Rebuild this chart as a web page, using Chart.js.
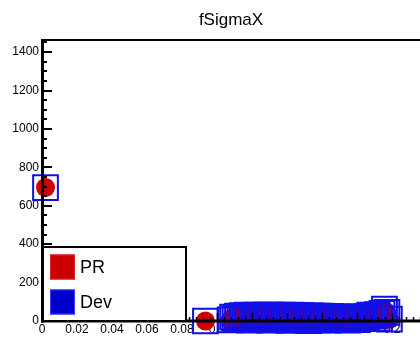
<!DOCTYPE html>
<html><head><meta charset="utf-8">
<script src="https://cdn.jsdelivr.net/npm/chart.js@4"></script>
<style>html,body{margin:0;padding:0;background:#fff;overflow:hidden}#wrap{width:420px;height:337px}</style>
</head><body><div id="wrap"><canvas id="c" width="420" height="337"></canvas></div>
<script>
const chartTitle = 'fSigmaX';
const seriesNames = ['PR', 'Dev'];
const xValues = [0.002, 0.0934,
  0.1075, 0.1089, 0.1103, 0.1117, 0.1131, 0.1145, 0.1159, 0.1173, 0.1187, 0.1201,
  0.1215, 0.1229, 0.1243, 0.1257, 0.1271, 0.1285, 0.1299, 0.1313, 0.1327, 0.1341,
  0.1355, 0.1369, 0.1383, 0.1397, 0.1411, 0.1425, 0.1439, 0.1453, 0.1467, 0.1481,
  0.1495, 0.1509, 0.1523, 0.1537, 0.1551, 0.1565, 0.1579, 0.1593, 0.1607, 0.1621,
  0.1635, 0.1649, 0.1663, 0.1677, 0.1691, 0.1705, 0.1719, 0.1733, 0.1747, 0.1761,
  0.1775, 0.1789, 0.1803, 0.1817, 0.1831, 0.1845, 0.1859, 0.1873, 0.1887, 0.1901,
  0.1915, 0.1929, 0.1943, 0.1957, 0.1971, 0.1985];
const prValues = [695, 0,
  4, 17, 10, 22, 7, 24, 12, 26, 3, 23,
  15, 27, 6, 25, 19, 27, 3, 26, 12, 24,
  8, 27, 17, 23, 2, 26, 13, 25, 5, 24,
  18, 22, 1, 23, 10, 21, 5, 22, 12, 19,
  3, 20, 9, 18, 6, 18, 12, 16, 4, 17,
  8, 15, 5, 18, 11, 16, 20, 26, 10, 24,
  28, 12, 35, 55, 38, 8];
const devValues = [695, 0,
  6, 20, 12, 26, 9, 28, 15, 30, 5, 27,
  18, 31, 8, 29, 22, 31, 4, 30, 14, 28,
  10, 31, 20, 27, 3, 30, 16, 29, 7, 28,
  21, 26, 2, 27, 12, 25, 6, 26, 15, 23,
  4, 24, 11, 21, 8, 22, 14, 19, 5, 20,
  10, 18, 7, 21, 13, 19, 24, 30, 12, 28,
  33, 15, 40, 62, 45, 10];
const xRange = [0, 0.216];
const yRange = [0, 1463];
const xMajorStep = 0.02, xMinorStep = 0.004;
const yMajorStep = 200, yMinorStep = 50;

const FONT = "'Liberation Sans', Arial, Helvetica, sans-serif";
const RED = '#cc0000';
const BLUE = '#1010e6';

function toPoints(xs, ys) { return xs.map((x, i) => ({ x: x, y: ys[i] })); }
function fmt(v) { return String(parseFloat(Number(v).toFixed(6))); }

const framePlugin = {
  id: 'frame',
  afterDatasetsDraw(chart) {
    const { ctx, chartArea: a, scales: { x, y } } = chart;
    ctx.save();
    ctx.strokeStyle = '#000';
    ctx.lineCap = 'butt';
    const ny = Math.round((yRange[1] - yRange[0]) / yMinorStep);
    for (let i = 0; i <= ny; i++) {
      const v = yRange[0] + i * yMinorStep;
      if (v > yRange[1]) break;
      const major = (i * yMinorStep) % yMajorStep === 0;
      const py = Math.round(y.getPixelForValue(v));
      ctx.lineWidth = 2;
      ctx.beginPath();
      ctx.moveTo(a.left, py);
      ctx.lineTo(a.left + (major ? 10 : 5), py);
      ctx.stroke();
    }
    const per = Math.round(xMajorStep / xMinorStep);
    for (let i = 0; ; i++) {
      const v = xRange[0] + i * xMinorStep;
      if (v > xRange[1]) break;
      const major = i % per === 0;
      const px = Math.round(x.getPixelForValue(v)) + 0.5;
      ctx.lineWidth = 1.5;
      ctx.beginPath();
      ctx.moveTo(px, a.bottom);
      ctx.lineTo(px, a.bottom - (major ? 8 : 4));
      ctx.stroke();
    }
    ctx.lineWidth = 2;
    ctx.beginPath(); ctx.moveTo(a.left, a.top); ctx.lineTo(a.right + 5, a.top); ctx.stroke();
    ctx.lineWidth = 3;
    ctx.beginPath(); ctx.moveTo(a.left + 0.5, a.top - 1); ctx.lineTo(a.left + 0.5, a.bottom + 1.5); ctx.stroke();
    ctx.beginPath(); ctx.moveTo(a.left - 1, a.bottom); ctx.lineTo(a.right + 5, a.bottom); ctx.stroke();
    ctx.restore();
  },
  afterDraw(chart) {
    const { ctx, chartArea: a } = chart;
    const ds = chart.data.datasets;
    ctx.save();
    const L = a.left + 1, T = a.bottom - 74, W = 143, H = 74;
    ctx.fillStyle = '#fff';
    ctx.fillRect(L, T, W, H);
    ctx.strokeStyle = '#000';
    ctx.lineWidth = 2;
    ctx.strokeRect(L, T, W, H);
    const rows = [{ c: RED, b: '#dd2222', cy: T + 20 }, { c: '#0000cc', b: '#3c3cff', cy: T + 55 }];
    ctx.font = '18px ' + FONT;
    ctx.textBaseline = 'middle';
    rows.forEach((r, i) => {
      ctx.fillStyle = r.c;
      ctx.fillRect(L + 7, r.cy - 12.5, 25, 25);
      ctx.strokeStyle = r.b;
      ctx.lineWidth = 1;
      ctx.strokeRect(L + 7.5, r.cy - 12, 24, 24);
      ctx.fillStyle = '#000';
      ctx.fillText(ds[i].label, L + 37, r.cy + 1);
    });
    ctx.restore();
  }
};

new Chart(document.getElementById('c'), {
  type: 'scatter',
  data: {
    datasets: [
      {
        label: seriesNames[0],
        data: toPoints(xValues, prValues),
        pointStyle: 'circle',
        pointRadius: 9.5,
        backgroundColor: RED,
        borderColor: RED,
        borderWidth: 0,
        clip: false,
        order: 2
      },
      {
        label: seriesNames[1],
        data: toPoints(xValues, devValues),
        pointStyle: 'rect',
        pointRadius: 17.5,
        backgroundColor: 'rgba(0,0,0,0)',
        borderColor: BLUE,
        borderWidth: 2,
        clip: false,
        order: 1
      }
    ]
  },
  options: {
    responsive: false,
    animation: false,
    devicePixelRatio: 1,
    events: [],
    layout: { autoPadding: false, padding: { left: 10, right: 0, top: 0, bottom: 0 } },
    plugins: {
      legend: { display: false },
      tooltip: { enabled: false },
      title: {
        display: true,
        fullSize: false,
        text: chartTitle,
        color: '#000',
        font: { family: FONT, size: 17, weight: 'normal' },
        padding: { top: 10, bottom: 9.6 }
      }
    },
    scales: {
      x: {
        type: 'linear',
        min: xRange[0],
        max: xRange[1],
        grid: { display: false, drawTicks: false, tickLength: 0 },
        border: { display: false },
        ticks: {
          stepSize: xMajorStep,
          includeBounds: false,
          autoSkip: false,
          maxRotation: 0,
          color: '#000',
          padding: 1,
          font: { family: FONT, size: 12 },
          callback: (v) => fmt(v)
        },
        afterFit(s) { s.height = 16; s.paddingLeft = 0; s.paddingRight = 0; }
      },
      y: {
        type: 'linear',
        min: yRange[0],
        max: yRange[1],
        grid: { display: false, drawTicks: false, tickLength: 0 },
        border: { display: false },
        ticks: {
          stepSize: yMajorStep,
          includeBounds: false,
          color: '#000',
          padding: 3,
          font: { family: FONT, size: 12 },
          callback: (v) => fmt(v)
        },
        afterFit(s) { s.width = 32; s.paddingTop = 0; s.paddingBottom = 0; }
      }
    }
  },
  plugins: [framePlugin]
});
</script>
</body></html>
